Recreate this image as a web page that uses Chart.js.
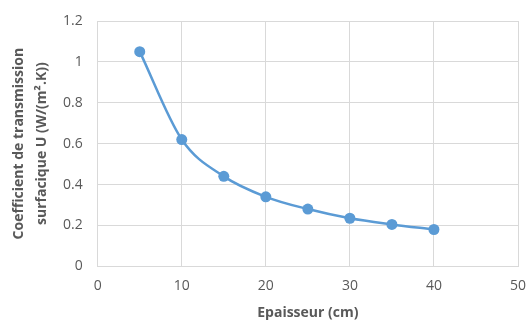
<!DOCTYPE html>
<html>
<head>
<meta charset="utf-8">
<style>
  html, body { margin: 0; padding: 0; background: #ffffff; }
  #wrap { width: 526px; height: 321px; position: relative; }
</style>
<script src="https://cdn.jsdelivr.net/npm/chart.js@4/dist/chart.umd.min.js"></script>
</head>
<body>
<div id="wrap"><canvas id="chart" width="526" height="321"></canvas></div>
<script>
// Thickness (cm) against surface transmission coefficient U
const thickness = [5, 10, 15, 20, 25, 30, 35, 40];
const uValues = [1.05, 0.62, 0.44, 0.34, 0.28, 0.235, 0.205, 0.18];
const xTicks = [0, 10, 20, 30, 40, 50];
const yTicks = [0, 0.2, 0.4, 0.6, 0.8, 1, 1.2];

const FONT = "'Open Sans', sans-serif";
const GRID = '#d9d9d9';
const TEXT = '#595959';

const points = thickness.map((x, i) => ({ x: x, y: uValues[i] }));

new Chart(document.getElementById('chart'), {
  type: 'line',
  data: {
    datasets: [{
      data: points,
      borderColor: '#5b9bd5',
      backgroundColor: '#5b9bd5',
      borderWidth: 2.5,
      pointRadius: 5.5,
      pointHoverRadius: 5.5,
      pointBorderWidth: 0,
      tension: 0.4,
      cubicInterpolationMode: 'monotone',
      fill: false
    }]
  },
  options: {
    responsive: false,
    animation: false,
    layout: { padding: { left: 0, right: 8, top: 21, bottom: 0 } },
    plugins: { legend: { display: false }, tooltip: { enabled: false } },
    scales: {
      x: {
        type: 'linear',
        min: 0, max: 50,
        afterBuildTicks: s => { s.ticks = xTicks.map(v => ({ value: v })); },
        afterFit: s => { s.height = 54.7; s.paddingLeft = 0; s.paddingRight = 0; },
        grid: { color: GRID, lineWidth: 1, drawTicks: false },
        border: { color: GRID, width: 1 },
        ticks: { color: TEXT, font: { family: FONT, size: 14 }, padding: 11 },
        title: {
          display: true,
          text: 'Epaisseur (cm)',
          color: TEXT,
          font: { family: FONT, size: 14, weight: 'bold' },
          padding: { top: 0, bottom: 0 }
        }
      },
      y: {
        type: 'linear',
        min: 0, max: 1.2,
        afterBuildTicks: s => { s.ticks = yTicks.map(v => ({ value: v })); },
        afterFit: s => { s.width = 97.7; s.paddingTop = 0; s.paddingBottom = 0; },
        grid: { color: GRID, lineWidth: 1, drawTicks: false },
        border: { color: GRID, width: 1 },
        ticks: {
          color: TEXT,
          font: { family: FONT, size: 14 },
          padding: 15,
          callback: v => String(Math.round(v * 10) / 10)
        },
        title: {
          display: true,
          text: ['Coefficient de transmission', 'surfacique U (W/(m\u00b2.K))'],
          color: TEXT,
          font: { family: FONT, size: 14, weight: 'bold', lineHeight: 1.6 },
          padding: { top: 8, bottom: 0 }
        }
      }
    }
  }
});
</script>
</body>
</html>
